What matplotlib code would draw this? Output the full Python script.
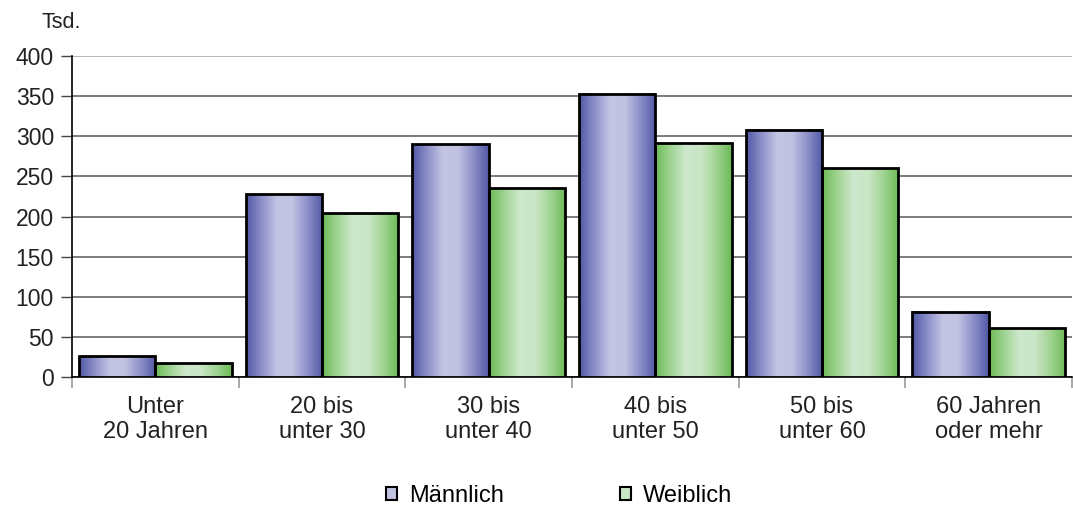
import numpy as np
import matplotlib
matplotlib.use('Agg')
import matplotlib.pyplot as plt
from matplotlib.colors import LinearSegmentedColormap
from matplotlib.patches import Patch

plt.rcParams['font.family'] = ['Liberation Sans', 'DejaVu Sans']

# data
categories = ['Unter\n20 Jahren', '20 bis\nunter 30', '30 bis\nunter 40',
              '40 bis\nunter 50', '50 bis\nunter 60', '60 Jahren\noder mehr']
maennlich = [26, 228, 290, 353, 308, 81]
weiblich = [17, 204, 235, 291, 260, 61]
yticks = [0, 50, 100, 150, 200, 250, 300, 350, 400]

blue_cmap = LinearSegmentedColormap.from_list('b', ['#5058a4', '#8c8fc8', '#c4c4e4', '#c2c2e3', '#8c8fc8', '#5058a4'])
green_cmap = LinearSegmentedColormap.from_list('g', ['#6cb955', '#a0d492', '#cde8cc', '#c9e6c6', '#a0d492', '#6cb955'])

fig = plt.figure(figsize=(10.73, 5.13), dpi=100)
ax = fig.add_axes([72/1073, 1 - 377/513, 1 - 73/1073, (377 - 56)/513])

x = np.arange(len(categories))
w = 0.458
grad = np.linspace(0, 1, 256).reshape(1, -1)

bars_m = ax.bar(x - w/2, maennlich, w, facecolor='none', edgecolor='black', linewidth=2, zorder=4)
bars_w = ax.bar(x + w/2, weiblich, w, facecolor='none', edgecolor='black', linewidth=2, zorder=4)

for bars, cmap in [(bars_m, blue_cmap), (bars_w, green_cmap)]:
    for b in bars:
        x0, y0 = b.get_x(), b.get_y()
        ax.imshow(grad, cmap=cmap, aspect='auto', zorder=3,
                  extent=[x0, x0 + b.get_width(), y0, y0 + b.get_height()])

ax.set_xlim(-0.5, len(categories) - 0.5)
ax.set_ylim(0, 400)
ax.set_yticks(yticks)
ax.set_yticklabels([str(t) for t in yticks], fontsize=16.5, color='#222222')
ax.yaxis.grid(True, color='#666666', linewidth=1.2)
ax.set_axisbelow(True)
# top gridline is paler in the original
ax.yaxis.get_gridlines()[-1].set_color('#aaaaaa')

ax.set_xticks(x)
ax.set_xticklabels(categories, fontsize=17, color='#222222', linespacing=1.15)
ax.tick_params(axis='x', length=0, pad=14)
ax.set_xticks(np.arange(len(categories) + 1) - 0.5, minor=True)
ax.tick_params(axis='x', which='minor', length=8, color='#999999', width=1.2)
ax.tick_params(axis='y', length=8, width=1, color='#444444', pad=5)

for s in ['top', 'right']:
    ax.spines[s].set_visible(False)
ax.spines['left'].set_linewidth(1.2)
ax.spines['bottom'].set_linewidth(1.2)

fig.text(42/1073, 1 - 22/513, 'Tsd.', fontsize=15.5, va='center', color='#222222')

handles = [Patch(facecolor='#c2c2e3', edgecolor='black', linewidth=1.5),
           Patch(facecolor='#c9e6c6', edgecolor='black', linewidth=1.5)]
fig.legend(handles, ['Männlich', 'Weiblich'], loc='center', bbox_to_anchor=(0.521, 1 - 496/513),
           ncol=2, frameon=False, fontsize=17, handlelength=0.5, handleheight=0.5,
           columnspacing=4.9, handletextpad=0.5)

fig.savefig('out.png', dpi=100)
